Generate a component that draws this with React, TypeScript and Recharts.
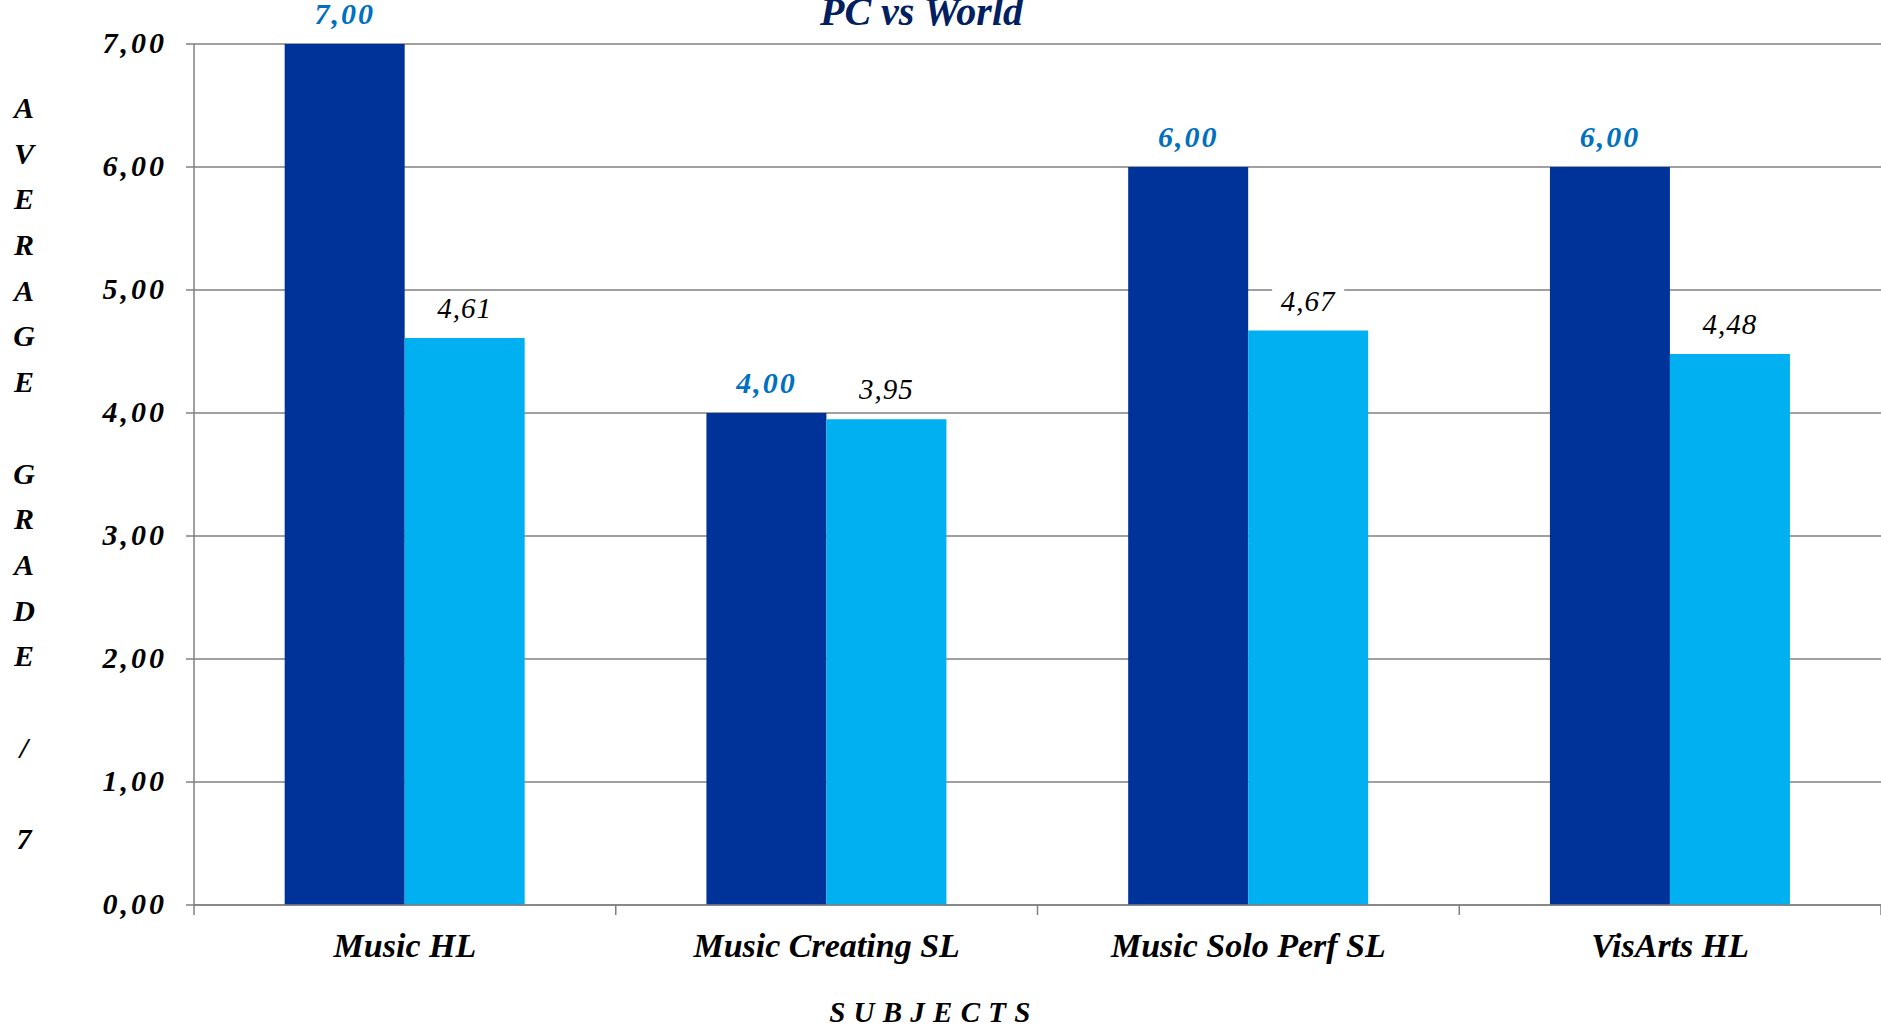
import React from "react";
import {
  BarChart,
  Bar,
  XAxis,
  YAxis,
  CartesianGrid,
  LabelList,
} from "recharts";

const subjects = ["Music HL", "Music Creating SL", "Music Solo Perf SL", "VisArts HL"];
const pcValues = [7.0, 4.0, 6.0, 6.0];
const worldValues = [4.61, 3.95, 4.67, 4.48];
const yTicks = [0, 1, 2, 3, 4, 5, 6, 7];

const chartTitle = "PC vs World";
const yAxisTitle = "AVERAGE GRADE / 7";
const xAxisTitle = "S U B J E C T S";

const CHART_W = 1881;
const CHART_H = 1031;
const Y_AXIS_W = 194;
const X_AXIS_H = 126;
const FONT = '"Liberation Serif", "Times New Roman", serif';
const GRID = "#808080";

const data = subjects.map((s, i) => ({
  subject: s,
  pc: pcValues[i],
  world: worldValues[i],
}));

const fmt = (v: number) => v.toFixed(2).replace(".", ",");

const band = (CHART_W - Y_AXIS_W) / subjects.length;

function XTick(props: any) {
  const { x, y, payload, index } = props;
  const left = x - band / 2;
  return (
    <g>
      <line x1={left} y1={y} x2={left} y2={y + 10} stroke={GRID} strokeWidth={1.5} />
      {index === subjects.length - 1 && (
        <line x1={x + band / 2} y1={y} x2={x + band / 2} y2={y + 10} stroke={GRID} strokeWidth={1.5} />
      )}
      <text
        x={x}
        y={y + 52}
        textAnchor="middle"
        fontFamily={FONT}
        fontStyle="italic"
        fontWeight="bold"
        fontSize={34}
        fill="#000"
      >
        {payload.value}
      </text>
    </g>
  );
}

function YTick(props: any) {
  const { x, y, payload } = props;
  return (
    <text
      x={x}
      y={y + 9}
      textAnchor="end"
      fontFamily={FONT}
      fontStyle="italic"
      fontWeight="bold"
      fontSize={30}
      letterSpacing={3}
      fill="#000"
    >
      {fmt(payload.value)}
    </text>
  );
}

const makeLabel = (color: string, bold: boolean) => (props: any) => {
  const { x, y, width, value } = props;
  const cx = x + width / 2;
  return (
    <g>
      <rect x={cx - 36} y={y - 46} width={72} height={32} fill="#fff" />
      <text
        x={cx}
        y={y - 20}
        textAnchor="middle"
        fontFamily={FONT}
        fontStyle="italic"
        fontWeight={bold ? "bold" : "normal"}
        fontSize={bold ? 30 : 29}
        letterSpacing={bold ? 2 : 1}
        fill={color}
      >
        {fmt(value)}
      </text>
    </g>
  );
};

export default function App() {
  return (
    <div
      style={{
        position: "absolute",
        left: 0,
        top: 0,
        width: CHART_W,
        height: CHART_H,
        background: "#fff",
        overflow: "hidden",
      }}
    >
      <BarChart
        width={CHART_W}
        height={CHART_H}
        data={data}
        margin={{ top: 44, right: 0, bottom: 0, left: 0 }}
        barCategoryGap="21.5%"
        barGap={0}
      >
        <CartesianGrid vertical={false} stroke={GRID} strokeWidth={1.5} />
        <XAxis
          dataKey="subject"
          height={X_AXIS_H}
          tickLine={false}
          tickSize={0}
          tickMargin={0}
          axisLine={{ stroke: GRID, strokeWidth: 1.5 }}
          tick={<XTick />}
          interval={0}
        />
        <YAxis
          width={Y_AXIS_W}
          domain={[0, 7]}
          ticks={yTicks}
          interval={0}
          tickSize={8}
          tickMargin={19}
          tickLine={{ stroke: GRID, strokeWidth: 1.5 }}
          axisLine={{ stroke: GRID, strokeWidth: 1.5 }}
          tick={<YTick />}
        />
        <Bar dataKey="pc" fill="#003399" isAnimationActive={false}>
          <LabelList dataKey="pc" content={makeLabel("#0070C0", true)} />
        </Bar>
        <Bar dataKey="world" fill="#00B0F0" isAnimationActive={false}>
          <LabelList dataKey="world" content={makeLabel("#000", false)} />
        </Bar>
      </BarChart>

      <div
        style={{
          position: "absolute",
          left: 0,
          top: -10,
          width: 1843,
          textAlign: "center",
          fontFamily: FONT,
          fontStyle: "italic",
          fontWeight: "bold",
          fontSize: 40,
          color: "#002060",
          lineHeight: "44px",
        }}
      >
        {chartTitle}
      </div>

      <div
        style={{
          position: "absolute",
          left: 4,
          top: 85,
          width: 40,
          textAlign: "center",
          fontFamily: FONT,
          fontStyle: "italic",
          fontWeight: "bold",
          fontSize: 30,
          color: "#000",
        }}
      >
        {yAxisTitle.split("").map((ch, i) => (
          <div key={i} style={{ height: 45.7, lineHeight: "45.7px" }}>
            {ch === " " ? "\u00a0" : ch}
          </div>
        ))}
      </div>

      <div
        style={{
          position: "absolute",
          left: 730,
          top: 992,
          width: 400,
          textAlign: "center",
          fontFamily: FONT,
          fontStyle: "italic",
          fontWeight: "bold",
          fontSize: 29,
          letterSpacing: 0.5,
          color: "#000",
          lineHeight: "40px",
        }}
      >
        {xAxisTitle}
      </div>
    </div>
  );
}
